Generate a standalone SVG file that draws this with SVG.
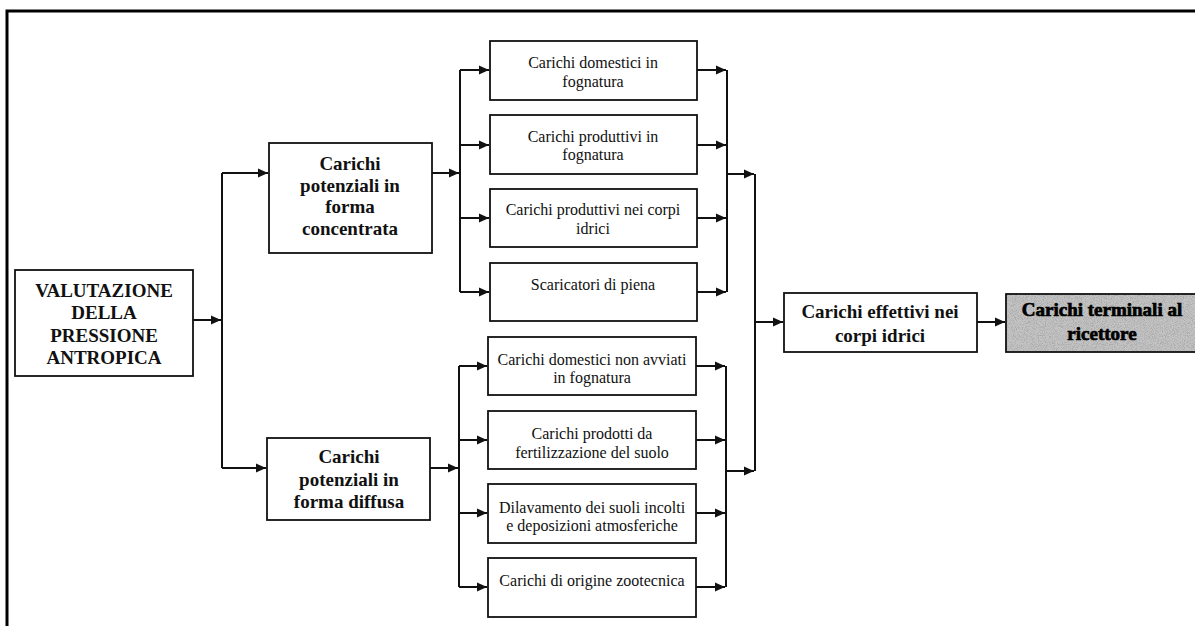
<svg xmlns="http://www.w3.org/2000/svg" width="1195" height="626" viewBox="0 0 1195 626">
  <style>
    .box { fill: #ffffff; stroke: #111111; stroke-width: 1.8; }
    .gbox { fill: #c4c4c4; stroke: none; }
    .t { font-family: "Liberation Serif", "Times New Roman", serif; font-size: 16px; fill: #111111; text-anchor: middle; }
    .b { font-family: "Liberation Serif", "Times New Roman", serif; font-size: 19px; font-weight: bold; fill: #111111; text-anchor: middle; }
    .bg { font-family: "Liberation Serif", "Times New Roman", serif; font-size: 19px; font-weight: bold; fill: #000000; stroke: #000000; stroke-width: 0.7; text-anchor: middle; }
    .c { fill: none; stroke: #111111; stroke-width: 2; }
    .frame { fill: none; stroke: #000000; stroke-width: 3; }
  </style>
  <defs>
    <marker id="ah" markerUnits="userSpaceOnUse" markerWidth="11" markerHeight="11" refX="10" refY="5.5" orient="auto">
      <path d="M0,1 L10,5.5 L0,10 Z" fill="#111111"/>
    </marker>
    <filter id="noise" x="0" y="0" width="100%" height="100%">
      <feTurbulence type="fractalNoise" baseFrequency="1.1" numOctaves="2" seed="5" result="n"/>
      <feColorMatrix in="n" type="matrix" values="0 0 0 0 0.4  0 0 0 0 0.4  0 0 0 0 0.4  0 0 0 3 -1.2" result="g"/>
      <feComposite in="g" in2="SourceGraphic" operator="atop"/>
    </filter>
  </defs>

  <path class="frame" d="M7,626 L7,11 L1195,11"/>

  <g id="connectors">
    <path class="c" d="M193,320 L221,320" marker-end="url(#ah)"/>
    <path class="c" d="M222,173 L222,468"/>
    <path class="c" d="M222,173 L268,173" marker-end="url(#ah)"/>
    <path class="c" d="M222,468 L266,468" marker-end="url(#ah)"/>

    <path class="c" d="M432,173 L459,173" marker-end="url(#ah)"/>
    <path class="c" d="M460,70 L460,292"/>
    <path class="c" d="M460,70 L489,70" marker-end="url(#ah)"/>
    <path class="c" d="M460,145 L489,145" marker-end="url(#ah)"/>
    <path class="c" d="M460,218 L489,218" marker-end="url(#ah)"/>
    <path class="c" d="M460,292 L489,292" marker-end="url(#ah)"/>

    <path class="c" d="M697,70 L726,70" marker-end="url(#ah)"/>
    <path class="c" d="M697,145 L726,145" marker-end="url(#ah)"/>
    <path class="c" d="M697,218 L726,218" marker-end="url(#ah)"/>
    <path class="c" d="M697,292 L726,292" marker-end="url(#ah)"/>
    <path class="c" d="M727,70 L727,292"/>
    <path class="c" d="M727,174 L754,174" marker-end="url(#ah)"/>

    <path class="c" d="M430,468 L458,468" marker-end="url(#ah)"/>
    <path class="c" d="M459,366 L459,587"/>
    <path class="c" d="M459,366 L487,366" marker-end="url(#ah)"/>
    <path class="c" d="M459,440 L487,440" marker-end="url(#ah)"/>
    <path class="c" d="M459,513 L487,513" marker-end="url(#ah)"/>
    <path class="c" d="M459,587 L487,587" marker-end="url(#ah)"/>

    <path class="c" d="M696,366 L725,366" marker-end="url(#ah)"/>
    <path class="c" d="M696,440 L725,440" marker-end="url(#ah)"/>
    <path class="c" d="M696,513 L725,513" marker-end="url(#ah)"/>
    <path class="c" d="M696,587 L725,587" marker-end="url(#ah)"/>
    <path class="c" d="M726,366 L726,587"/>
    <path class="c" d="M726,471 L754,471" marker-end="url(#ah)"/>

    <path class="c" d="M755,174 L755,471"/>
    <path class="c" d="M755,322 L783,322" marker-end="url(#ah)"/>
    <path class="c" d="M977,322 L1005,322" marker-end="url(#ah)"/>
  </g>

  <g id="valutazione">
    <rect class="box" x="15" y="270" width="178" height="106"/>
    <text class="b" x="104" y="297">VALUTAZIONE</text>
    <text class="b" x="104" y="319">DELLA</text>
    <text class="b" x="104" y="342">PRESSIONE</text>
    <text class="b" x="104" y="364">ANTROPICA</text>
  </g>

  <g id="concentrata">
    <rect class="box" x="269" y="143" width="163" height="110"/>
    <text class="b" x="350" y="170">Carichi</text>
    <text class="b" x="350" y="192">potenziali in</text>
    <text class="b" x="350" y="213">forma</text>
    <text class="b" x="350" y="235">concentrata</text>
  </g>

  <g id="diffusa">
    <rect class="box" x="267" y="438" width="163" height="82"/>
    <text class="b" x="349" y="463">Carichi</text>
    <text class="b" x="349" y="486">potenziali in</text>
    <text class="b" x="349" y="508">forma diffusa</text>
  </g>

  <g id="domestici-fognatura">
    <rect class="box" x="490" y="41" width="207" height="59"/>
    <text class="t" x="593" y="68">Carichi domestici in</text>
    <text class="t" x="593" y="87">fognatura</text>
  </g>
  <g id="produttivi-fognatura">
    <rect class="box" x="490" y="115" width="207" height="59"/>
    <text class="t" x="593" y="142">Carichi produttivi in</text>
    <text class="t" x="593" y="160">fognatura</text>
  </g>
  <g id="produttivi-corpi">
    <rect class="box" x="490" y="189" width="207" height="58"/>
    <text class="t" x="593" y="215">Carichi produttivi nei corpi</text>
    <text class="t" x="593" y="234">idrici</text>
  </g>
  <g id="scaricatori">
    <rect class="box" x="490" y="263" width="207" height="58"/>
    <text class="t" x="593" y="290">Scaricatori di piena</text>
  </g>

  <g id="domestici-non-avviati">
    <rect class="box" x="488" y="337" width="208" height="58"/>
    <text class="t" x="592" y="365">Carichi domestici non avviati</text>
    <text class="t" x="592" y="383">in fognatura</text>
  </g>
  <g id="fertilizzazione">
    <rect class="box" x="488" y="411" width="208" height="58"/>
    <text class="t" x="592" y="439">Carichi prodotti da</text>
    <text class="t" x="592" y="458">fertilizzazione del suolo</text>
  </g>
  <g id="dilavamento">
    <rect class="box" x="488" y="484" width="208" height="59"/>
    <text class="t" x="592" y="513">Dilavamento dei suoli incolti</text>
    <text class="t" x="592" y="531">e deposizioni atmosferiche</text>
  </g>
  <g id="zootecnica">
    <rect class="box" x="488" y="558" width="208" height="59"/>
    <text class="t" x="592" y="586">Carichi di origine zootecnica</text>
  </g>

  <g id="effettivi">
    <rect class="box" x="784" y="293" width="193" height="59"/>
    <text class="b" x="880" y="318">Carichi effettivi nei</text>
    <text class="b" x="880" y="342">corpi idrici</text>
  </g>

  <g id="terminali">
    <rect class="gbox" x="1006" y="294" width="195" height="58" filter="url(#noise)"/>
    <rect x="1006" y="294" width="195" height="58" fill="none" stroke="#111111" stroke-width="1.8"/>
    <text class="bg" x="1102" y="316">Carichi terminali al</text>
    <text class="bg" x="1102" y="340">ricettore</text>
  </g>
</svg>
